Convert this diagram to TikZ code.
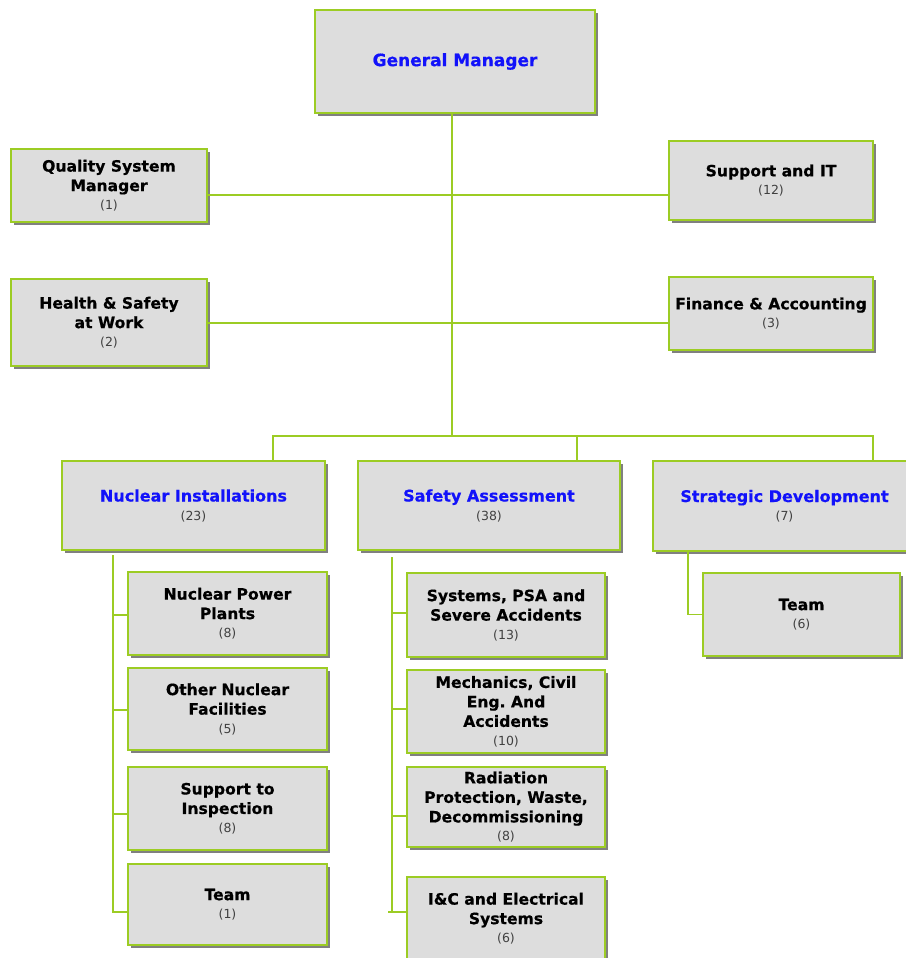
\documentclass[tikz,border=0pt]{standalone}
\usepackage{fontspec}
\setmainfont[BoldFeatures={FakeBold=0.5}]{DejaVu Sans}
\usetikzlibrary{shadows}
\frenchspacing

\definecolor{linegreen}{RGB}{156,204,36}
\definecolor{boxfill}{RGB}{221,221,221}
\definecolor{headblue}{RGB}{18,18,250}
\definecolor{countgray}{RGB}{64,64,64}

% staff count printed under a unit name
\newcommand{\staff}[1]{\\[-1pt]{\fontsize{12.5}{14}\selectfont\mdseries\color{countgray}(#1)}}

\begin{document}
\begin{tikzpicture}[x=1pt,y=-1pt,
  unit/.style={draw=linegreen, line width=2.2pt, fill=boxfill,
    drop shadow={shadow xshift=3pt, shadow yshift=-3pt, fill=black!50, opacity=1},
    align=center, inner sep=0pt, text=black,
    font=\fontsize{15.6}{19.5}\selectfont\bfseries},
  head/.style={unit, text=headblue, font=\fontsize{16}{19.5}\selectfont\bfseries},
  link/.style={draw=linegreen, line width=1.5pt}]

\useasboundingbox (0,0) rectangle (905,958);

% top management
\node[head, minimum width=280, minimum height=103, font=\fontsize{17}{20}\selectfont\bfseries]
  (gm) at (455,61.5) {General Manager};
\node[unit, minimum width=196, minimum height=73] (qsm) at (109,185.5) {Quality System\\Manager\staff{1}};
\node[unit, minimum width=204, minimum height=79] (sit) at (771,180.5) {Support and IT\staff{12}};
\node[unit, minimum width=196, minimum height=87] (hs) at (109,322.5) {Health \& Safety\\at Work\staff{2}};
\node[unit, minimum width=204, minimum height=73] (fa) at (771,313.5) {Finance \& Accounting\staff{3}};

% divisions
\node[head, minimum width=263, minimum height=89] (ni) at (193.5,505.5) {Nuclear Installations\staff{23}};
\node[head, minimum width=262, minimum height=89] (sa) at (489,505.5) {Safety Assessment\staff{38}};
\node[head, minimum width=263, minimum height=90] (sd) at (784.5,506) {Strategic Development\staff{7}};

% Nuclear Installations sections
\node[unit, minimum width=199, minimum height=83] (npp) at (227.5,613.5) {Nuclear Power\\Plants\staff{8}};
\node[unit, minimum width=199, minimum height=82] (onf) at (227.5,709) {Other Nuclear\\Facilities\staff{5}};
\node[unit, minimum width=199, minimum height=83] (sti) at (227.5,808.5) {Support to\\Inspection\staff{8}};
\node[unit, minimum width=199, minimum height=81] (nit) at (227.5,904.5) {Team\staff{1}};

% Safety Assessment sections
\node[unit, minimum width=198, minimum height=84] (spsa) at (506,615) {Systems, PSA and\\Severe Accidents\staff{13}};
\node[unit, minimum width=198, minimum height=83] (mech) at (506,711.5) {Mechanics, Civil\\Eng. And\\Accidents\staff{10}};
\node[unit, minimum width=198, minimum height=80] (rad) at (506,807) {Radiation\\Protection, Waste,\\Decommissioning\staff{8}};
\node[unit, minimum width=198, minimum height=83] (ic) at (506,918.5) {I\&C and Electrical\\Systems\staff{6}};

% Strategic Development section
\node[unit, minimum width=197, minimum height=83] (sdt) at (801.5,614.5) {Team\staff{6}};

% main trunk and staff lines
\coordinate (hub) at (452,436);
\coordinate (row1) at (452,195);
\coordinate (row2) at (452,323);
\draw[link] (gm.south -| hub) -- (hub);
\draw[link] (row1 -| qsm.east) -- (row1 -| sit.west);
\draw[link] (row2 -| hs.east) -- (row2 -| fa.west);

% division bus
\coordinate (busL) at (273,436);
\coordinate (busM) at (577,436);
\coordinate (busR) at (873,436);
\draw[link] (ni.north -| busL) -- (busL) -- (busR) -- (sd.north -| busR);
\draw[link] (busM) -- (sa.north -| busM);

% Nuclear Installations branches
\coordinate (niTop) at (113,555);
\coordinate (ni1) at (113,615);
\coordinate (ni2) at (113,710);
\coordinate (ni3) at (113,814);
\coordinate (ni4) at (113,912);
\draw[link] (niTop) -- (ni4) -- (ni4 -| nit.west);
\draw[link] (ni1) -- (ni1 -| npp.west);
\draw[link] (ni2) -- (ni2 -| onf.west);
\draw[link] (ni3) -- (ni3 -| sti.west);

% Safety Assessment branches
\coordinate (saTop) at (392,557);
\coordinate (sa1) at (392,613);
\coordinate (sa2) at (392,709);
\coordinate (sa3) at (392,816);
\coordinate (sa4) at (392,912);
\coordinate (sa4tick) at (388,912);
\draw[link] (saTop) -- (sa4);
\draw[link] (sa4tick) -- (sa4tick -| ic.west);
\draw[link] (sa1) -- (sa1 -| spsa.west);
\draw[link] (sa2) -- (sa2 -| mech.west);
\draw[link] (sa3) -- (sa3 -| rad.west);

% Strategic Development branch
\coordinate (sdTop) at (688,551);
\draw[link] (sdTop) |- (sdt.west);

\end{tikzpicture}
\end{document}
